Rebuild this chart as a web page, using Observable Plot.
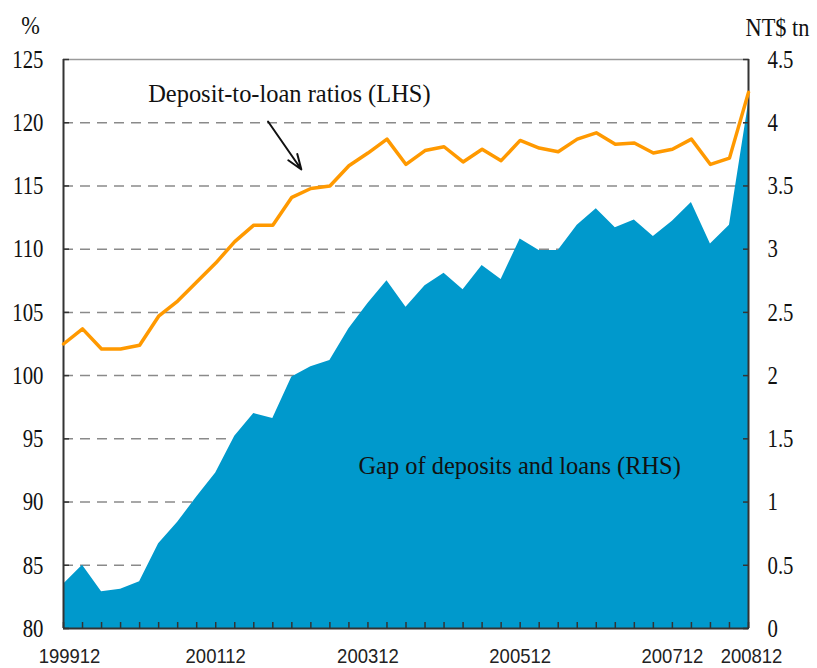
<!DOCTYPE html>
<html>
<head>
<meta charset="utf-8">
<script src="https://cdn.jsdelivr.net/npm/d3@7"></script>
<script src="https://cdn.jsdelivr.net/npm/@observablehq/plot@0.6"></script>
<style>
  html, body { margin: 0; padding: 0; background: #fff; }
  #chart svg { display: block; }
</style>
</head>
<body>
<div id="chart"></div>
<script>
// Quarterly periods (end-of-quarter, YYYYMM)
const periods = [
  "199912","200003","200006","200009","200012","200103","200106","200109","200112",
  "200203","200206","200209","200212","200303","200306","200309","200312",
  "200403","200406","200409","200412","200503","200506","200509","200512",
  "200603","200606","200609","200612","200703","200706","200709","200712",
  "200803","200806","200809","200812"
];
// Deposit-to-loan ratios, % (LHS)
const ratio = [
  102.5, 103.7, 102.1, 102.1, 102.4, 104.7, 105.9, 107.4, 108.9,
  110.6, 111.9, 111.9, 114.1, 114.8, 115.0, 116.6, 117.6,
  118.7, 116.7, 117.8, 118.1, 116.9, 117.9, 117.0, 118.6,
  118.0, 117.7, 118.7, 119.2, 118.3, 118.4, 117.6, 117.9,
  118.7, 116.7, 117.2, 122.4
];
// Gap of deposits and loans, NT$ tn (RHS)
const gap = [
  0.35, 0.50, 0.29, 0.31, 0.37, 0.67, 0.84, 1.04, 1.23,
  1.52, 1.70, 1.66, 1.99, 2.07, 2.12, 2.37, 2.57,
  2.75, 2.54, 2.71, 2.81, 2.68, 2.87, 2.76, 3.08,
  2.99, 2.99, 3.19, 3.32, 3.17, 3.23, 3.10, 3.22,
  3.37, 3.04, 3.19, 4.15
];
const leftTicks = [80, 85, 90, 95, 100, 105, 110, 115, 120, 125];
const rightTicks = [0, 0.5, 1, 1.5, 2, 2.5, 3, 3.5, 4, 4.5];
const gridLines = [85, 90, 95, 100, 105, 110, 115, 120];
const xLabelPeriods = ["199912", "200112", "200312", "200512", "200712", "200812"];
// annotations (index position in periods, LHS value)
const lineLabel = {text: "Deposit-to-loan ratios (LHS)", x: 4.45, y: 122.3};
const areaLabel = {text: "Gap of deposits and loans (RHS)", x: 15.5, y: 92.9};
const arrowSpec = {x1: 10.75, y1: 120.1, x2: 12.5, y2: 116.3};

// map RHS to LHS units: 0 -> 80, 4.5 -> 125
const rToL = v => 80 + v * 10;
const lToR = v => (v - 80) / 10;

const data = periods.map((p, i) => ({i, p, ratio: ratio[i], gap: gap[i]}));
const idx = p => periods.indexOf(p);

const serif = "Liberation Serif";
const sans = "Liberation Sans";

const plot = Plot.plot({
  width: 817,
  height: 668,
  marginLeft: 63,
  marginRight: 69,
  marginTop: 59,
  marginBottom: 40,
  style: {background: "#fff", overflow: "visible"},
  x: {type: "linear", domain: [0, periods.length - 1]},
  y: {domain: [80, 125]},
  marks: [
    // dashed grid
    Plot.ruleY(gridLines, {stroke: "#8a8a8a", strokeWidth: 1.5, strokeDasharray: "10,7"}),
    // area (RHS)
    Plot.areaY(data, {x: "i", y1: 80, y2: d => rToL(d.gap), fill: "#0099cc", curve: "linear"}),
    // frame
    Plot.ruleY([125], {stroke: "#9a9a9a", strokeWidth: 1.5}),
    Plot.ruleX([0, periods.length - 1], {stroke: "#333", strokeWidth: 2}),
    Plot.ruleY([80], {stroke: "#333", strokeWidth: 2}),
    // ticks (inward)
    Plot.axisY(leftTicks, {anchor: "left", tickSize: -6, stroke: "#333", strokeWidth: 1.5, label: null, text: null}),
    Plot.axisY(rightTicks.map(rToL), {anchor: "right", tickSize: -6, stroke: "#333", strokeWidth: 1.5, label: null, text: null}),
    Plot.axisX(d3.range(periods.length), {anchor: "bottom", tickSize: -6, stroke: "#333", strokeWidth: 1.5, label: null, text: null}),
    // tick labels
    Plot.axisY(leftTicks, {anchor: "left", tickSize: 0, tickPadding: 20, fontSize: 21, fontFamily: serif, fill: "#111", label: null}),
    Plot.axisY(rightTicks.map(rToL), {anchor: "right", tickSize: 0, tickPadding: 19, fontSize: 21, fontFamily: serif, fill: "#111", label: null,
      tickFormat: v => String(lToR(v))}),
    Plot.axisX(xLabelPeriods.slice(1, -1).map(idx), {anchor: "bottom", tickSize: 0, tickPadding: 20, fontSize: 19, fontFamily: sans,
      fill: "#222", label: null, tickFormat: i => periods[i]}),
    Plot.axisX([idx("199912")], {anchor: "bottom", tickSize: 0, tickPadding: 20, fontSize: 19, fontFamily: sans,
      fill: "#222", label: null, dx: 6, tickFormat: i => periods[i]}),
    Plot.axisX([idx("200812")], {anchor: "bottom", tickSize: 0, tickPadding: 20, fontSize: 19, fontFamily: sans,
      fill: "#222", label: null, dx: 3, tickFormat: i => periods[i]}),
    // unit labels
    Plot.text(["%"], {frameAnchor: "top-left", textAnchor: "middle", lineAnchor: "middle", dx: -33, dy: -34,
      fontSize: 21, fontFamily: serif, fill: "#111"}),
    Plot.text(["NT$ tn"], {frameAnchor: "top-right", textAnchor: "middle", lineAnchor: "middle", dx: 29, dy: -32,
      fontSize: 21, fontFamily: serif, fill: "#111"}),
    // ratio line (LHS)
    Plot.lineY(data, {x: "i", y: "ratio", stroke: "#ff9900", strokeWidth: 3.5, curve: "linear"}),
    // annotations
    Plot.text([lineLabel, areaLabel], {x: "x", y: "y", text: "text", textAnchor: "start", fontSize: 21, fontFamily: serif,
      fill: "#111"}),
    Plot.arrow([arrowSpec], {x1: "x1", y1: "y1", x2: "x2", y2: "y2", stroke: "#111", strokeWidth: 2, headLength: 12, headAngle: 40})
  ]
});
document.getElementById("chart").appendChild(plot);

// typographic adjustment: taller glyphs, horizontally condensed (as in the reference)
function restyle(texts, size, factor) {
  texts.forEach(t => {
    t.setAttribute("font-size", size);
    const w = t.getComputedTextLength();
    if (w > 0) {
      t.setAttribute("textLength", (w * factor).toFixed(1));
      t.setAttribute("lengthAdjust", "spacingAndGlyphs");
    }
  });
}
const allTexts = sel => Array.from(plot.querySelectorAll(sel));
restyle(allTexts('g[aria-label="y-axis tick label"] text'), 26, 0.8);
restyle(allTexts('g[aria-label="x-axis tick label"] text'), 21, 0.88);
const markTexts = allTexts('g[aria-label="text"] text');
restyle(markTexts.filter(t => t.textContent.length <= 6), 26, 0.86);
restyle(markTexts.filter(t => t.textContent.length > 6), 26, 0.94);
</script>
</body>
</html>
